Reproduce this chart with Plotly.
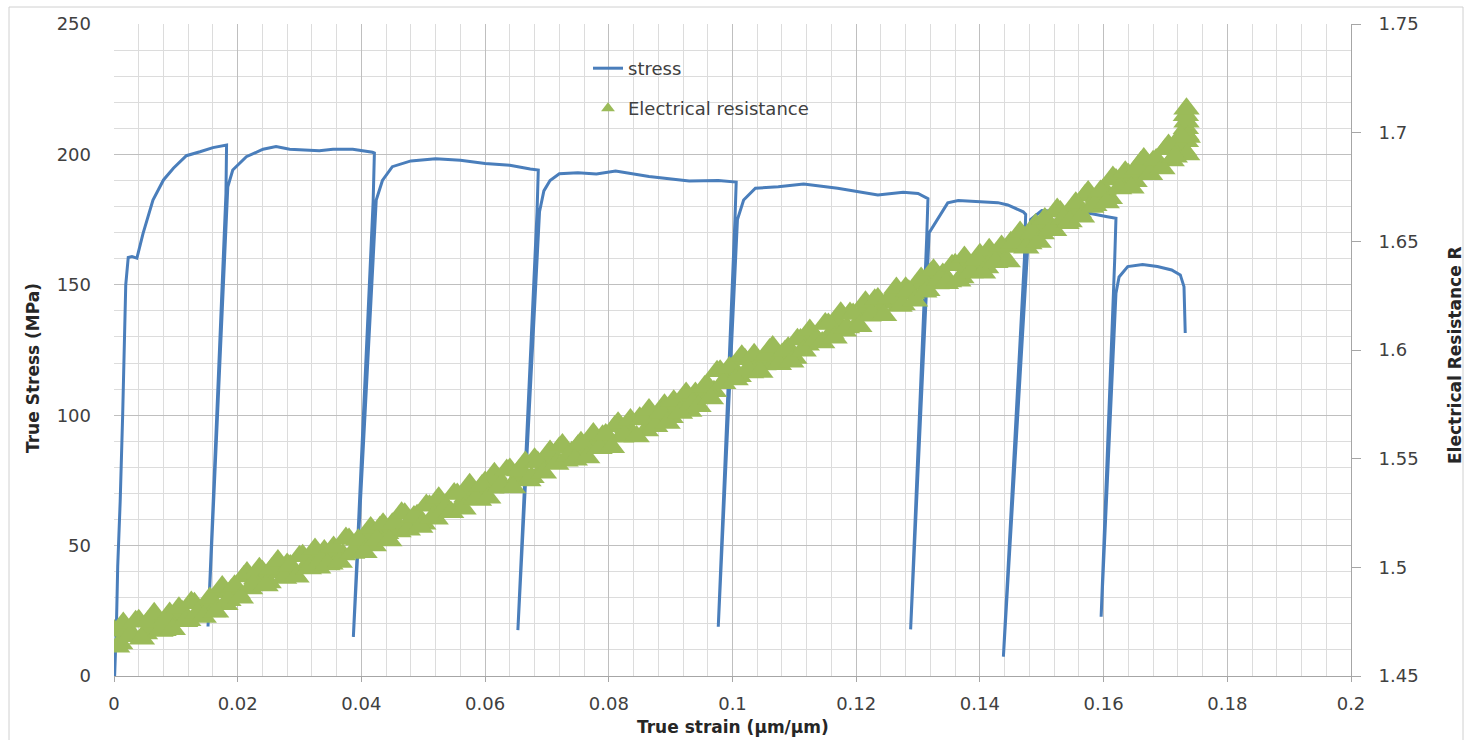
import plotly.graph_objects as go

# ---------------- data ----------------
stress_strain = [
    0.0001, 0.0004, 0.0006, 0.0010, 0.0014, 0.0017, 0.0019, 0.0023, 0.0029, 0.0037,
    0.0047, 0.0063, 0.0080, 0.0096, 0.0117, 0.0139, 0.0160, 0.0182,
    0.0181, 0.0152,
    0.0184, 0.0192, 0.0214, 0.0241, 0.0262, 0.0284, 0.0310, 0.0332, 0.0354, 0.0386, 0.0418, 0.0421,
    0.0419, 0.0387,
    0.0424, 0.0434, 0.0450, 0.0480, 0.0520, 0.0560, 0.0600, 0.0640, 0.0673, 0.0686,
    0.0684, 0.0653,
    0.0688, 0.0695, 0.0705, 0.0720, 0.0750, 0.0780, 0.0811, 0.0865, 0.0930, 0.0977, 0.1006,
    0.1004, 0.0977,
    0.1008, 0.1018, 0.1037, 0.1074, 0.1115, 0.1170, 0.1235, 0.1276, 0.1300, 0.1316,
    0.1314, 0.1288,
    0.1318, 0.1348, 0.1365, 0.1429, 0.1445, 0.1470, 0.1474,
    0.1472, 0.1438,
    0.1477, 0.1482, 0.1500, 0.1530, 0.1577, 0.1606, 0.1620,
    0.1618, 0.1596,
    0.1620, 0.1625, 0.1639, 0.1663, 0.1687, 0.1710, 0.1724, 0.1730, 0.1732,
]
stress_mpa = [
    0.0, 20.0, 42.0, 67.0, 100.0, 130.0, 150.0, 160.5, 160.8, 160.2,
    169.7, 182.5, 190.2, 194.7, 199.5, 201.0, 202.6, 203.6,
    185.0, 19.0,
    187.6, 194.0, 199.1, 202.0, 203.0, 202.0, 201.6, 201.4, 202.0, 202.0, 200.8, 200.5,
    182.0, 15.0,
    182.5, 190.0, 195.3, 197.5, 198.3, 197.8, 196.5, 195.8, 194.4, 194.0,
    178.0, 17.6,
    178.0, 186.0, 190.0, 192.6, 193.0, 192.5, 193.6, 191.5, 189.8, 190.0, 189.4,
    175.0, 18.9,
    175.0, 182.5, 187.0, 187.6, 188.6, 187.0, 184.4, 185.5, 185.0, 183.0,
    168.0, 17.9,
    170.0, 181.4, 182.3, 181.5, 180.6, 178.0, 177.0,
    160.0, 7.4,
    163.0, 175.0, 178.5, 178.0, 177.4, 176.1, 175.5,
    160.0, 22.7,
    146.8, 153.0, 157.0, 157.8, 157.0, 155.7, 153.8, 149.3, 131.5,
]

# electrical resistance readings, whole-step strains
res_strain = [
    0.000, 0.001, 0.002, 0.003, 0.004, 0.005, 0.006, 0.007, 0.008, 0.009,
    0.010, 0.011, 0.012, 0.013, 0.014, 0.015, 0.016, 0.017, 0.018, 0.019,
    0.020, 0.021, 0.022, 0.023, 0.024, 0.025, 0.026, 0.027, 0.028, 0.029,
    0.030, 0.031, 0.032, 0.033, 0.034, 0.035, 0.036, 0.037, 0.038, 0.039,
    0.040, 0.041, 0.042, 0.043, 0.044, 0.045, 0.046, 0.047, 0.048, 0.049,
    0.050, 0.051, 0.052, 0.053, 0.054, 0.055, 0.056, 0.057, 0.058, 0.059,
    0.060, 0.061, 0.062, 0.063, 0.064, 0.065, 0.066, 0.067, 0.068, 0.069,
    0.070, 0.071, 0.072, 0.073, 0.074, 0.075, 0.076, 0.077, 0.078, 0.079,
    0.080, 0.081, 0.082, 0.083, 0.084, 0.085, 0.086, 0.087, 0.088, 0.089,
    0.090, 0.091, 0.092, 0.093, 0.094, 0.095, 0.096, 0.097, 0.098, 0.099,
    0.100, 0.101, 0.102, 0.103, 0.104, 0.105, 0.106, 0.107, 0.108, 0.109,
    0.110, 0.111, 0.112, 0.113, 0.114, 0.115, 0.116, 0.117, 0.118, 0.119,
    0.120, 0.121, 0.122, 0.123, 0.124, 0.125, 0.126, 0.127, 0.128, 0.129,
    0.130, 0.131, 0.132, 0.133, 0.134, 0.135, 0.136, 0.137, 0.138, 0.139,
    0.140, 0.141, 0.142, 0.143, 0.144, 0.145, 0.146, 0.147, 0.148, 0.149,
    0.150, 0.151, 0.152, 0.153, 0.154, 0.155, 0.156, 0.157, 0.158, 0.159,
    0.160, 0.161, 0.162, 0.163, 0.164, 0.165, 0.166, 0.167, 0.168, 0.169,
    0.170, 0.171, 0.172, 0.173,
    0.1733, 0.1734, 0.1733, 0.1734, 0.1733, 0.1734, 0.1735, 0.1736,
]
res_ohm = [
    1.4710, 1.4649, 1.4708, 1.4687, 1.4756, 1.4695, 1.4734, 1.4763, 1.4711, 1.4790,
    1.4759, 1.4798, 1.4756, 1.4835, 1.4784, 1.4830, 1.4797, 1.4884, 1.4830, 1.4897,
    1.4882, 1.4958, 1.4903, 1.4949, 1.4982, 1.4930, 1.5008, 1.4976, 1.5015, 1.4973,
    1.5051, 1.5000, 1.5039, 1.4998, 1.5078, 1.5017, 1.5078, 1.5059, 1.5130, 1.5071,
    1.5112, 1.5146, 1.5100, 1.5184, 1.5157, 1.5201, 1.5165, 1.5247, 1.5198, 1.5240,
    1.5201, 1.5283, 1.5224, 1.5286, 1.5267, 1.5340, 1.5283, 1.5326, 1.5358, 1.5310,
    1.5393, 1.5366, 1.5410, 1.5373, 1.5452, 1.5401, 1.5441, 1.5400, 1.5500, 1.5440,
    1.5500, 1.5480, 1.5550, 1.5490, 1.5530, 1.5560, 1.5510, 1.5590, 1.5562, 1.5605,
    1.5567, 1.5649, 1.5601, 1.5644, 1.5606, 1.5688, 1.5630, 1.5693, 1.5675, 1.5748,
    1.5691, 1.5733, 1.5766, 1.5719, 1.5802, 1.5780, 1.5835, 1.5810, 1.5905, 1.5870,
    1.5920, 1.5879, 1.5958, 1.5896, 1.5955, 1.5933, 1.6002, 1.5941, 1.5980, 1.6010,
    1.5963, 1.6048, 1.6024, 1.6070, 1.6036, 1.6122, 1.6078, 1.6124, 1.6088, 1.6170,
    1.6113, 1.6176, 1.6158, 1.6231, 1.6174, 1.6216, 1.6249, 1.6202, 1.6286, 1.6260,
    1.6304, 1.6268, 1.6352, 1.6306, 1.6350, 1.6315, 1.6394, 1.6334, 1.6393, 1.6372,
    1.6441, 1.6380, 1.6419, 1.6450, 1.6408, 1.6496, 1.6474, 1.6522, 1.6490, 1.6578,
    1.6536, 1.6585, 1.6551, 1.6637, 1.6583, 1.6649, 1.6635, 1.6711, 1.6658, 1.6704,
    1.6741, 1.6698, 1.6785, 1.6762, 1.6809, 1.6776, 1.6863, 1.6820, 1.6868, 1.6836,
    1.6924, 1.6872, 1.6936, 1.6920,
    1.6960, 1.6990, 1.7020, 1.7050, 1.7080, 1.7110, 1.6900, 1.6980,
]

# electrical resistance readings, half-step strains
res_strain_half = [
    0.0005, 0.0015, 0.0025, 0.0035, 0.0045, 0.0055, 0.0065, 0.0075, 0.0085, 0.0095,
    0.0105, 0.0115, 0.0125, 0.0135, 0.0145, 0.0155, 0.0165, 0.0175, 0.0185, 0.0195,
    0.0205, 0.0215, 0.0225, 0.0235, 0.0245, 0.0255, 0.0265, 0.0275, 0.0285, 0.0295,
    0.0305, 0.0315, 0.0325, 0.0335, 0.0345, 0.0355, 0.0365, 0.0375, 0.0385, 0.0395,
    0.0405, 0.0415, 0.0425, 0.0435, 0.0445, 0.0455, 0.0465, 0.0475, 0.0485, 0.0495,
    0.0505, 0.0515, 0.0525, 0.0535, 0.0545, 0.0555, 0.0565, 0.0575, 0.0585, 0.0595,
    0.0605, 0.0615, 0.0625, 0.0635, 0.0645, 0.0655, 0.0665, 0.0675, 0.0685, 0.0695,
    0.0705, 0.0715, 0.0725, 0.0735, 0.0745, 0.0755, 0.0765, 0.0775, 0.0785, 0.0795,
    0.0805, 0.0815, 0.0825, 0.0835, 0.0845, 0.0855, 0.0865, 0.0875, 0.0885, 0.0895,
    0.0905, 0.0915, 0.0925, 0.0935, 0.0945, 0.0955, 0.0965, 0.0975, 0.0985, 0.0995,
    0.1005, 0.1015, 0.1025, 0.1035, 0.1045, 0.1055, 0.1065, 0.1075, 0.1085, 0.1095,
    0.1105, 0.1115, 0.1125, 0.1135, 0.1145, 0.1155, 0.1165, 0.1175, 0.1185, 0.1195,
    0.1205, 0.1215, 0.1225, 0.1235, 0.1245, 0.1255, 0.1265, 0.1275, 0.1285, 0.1295,
    0.1305, 0.1315, 0.1325, 0.1335, 0.1345, 0.1355, 0.1365, 0.1375, 0.1385, 0.1395,
    0.1405, 0.1415, 0.1425, 0.1435, 0.1445, 0.1455, 0.1465, 0.1475, 0.1485, 0.1495,
    0.1505, 0.1515, 0.1525, 0.1535, 0.1545, 0.1555, 0.1565, 0.1575, 0.1585, 0.1595,
    0.1605, 0.1615, 0.1625, 0.1635, 0.1645, 0.1655, 0.1665, 0.1675, 0.1685, 0.1695,
    0.1705, 0.1715, 0.1725,
]
res_ohm_half = [
    1.4635, 1.4744, 1.4683, 1.4752, 1.4671, 1.4750, 1.4789, 1.4707, 1.4766, 1.4715,
    1.4814, 1.4752, 1.4841, 1.4790, 1.4772, 1.4859, 1.4796, 1.4912, 1.4849, 1.4915,
    1.4860, 1.4976, 1.4921, 1.4996, 1.4916, 1.4994, 1.5032, 1.4951, 1.5009, 1.4957,
    1.5056, 1.4995, 1.5084, 1.5033, 1.5013, 1.5093, 1.5024, 1.5135, 1.5066, 1.5127,
    1.5069, 1.5183, 1.5127, 1.5201, 1.5124, 1.5208, 1.5251, 1.5173, 1.5234, 1.5186,
    1.5287, 1.5229, 1.5320, 1.5272, 1.5254, 1.5337, 1.5270, 1.5382, 1.5314, 1.5377,
    1.5320, 1.5433, 1.5377, 1.5448, 1.5367, 1.5446, 1.5485, 1.5415, 1.5485, 1.5435,
    1.5535, 1.5475, 1.5565, 1.5515, 1.5495, 1.5575, 1.5505, 1.5616, 1.5548, 1.5611,
    1.5553, 1.5665, 1.5607, 1.5680, 1.5602, 1.5684, 1.5726, 1.5649, 1.5711, 1.5664,
    1.5767, 1.5710, 1.5802, 1.5755, 1.5741, 1.5832, 1.5777, 1.5902, 1.5847, 1.5920,
    1.5864, 1.5973, 1.5912, 1.5980, 1.5899, 1.5977, 1.6016, 1.5935, 1.5995, 1.5946,
    1.6050, 1.5996, 1.6092, 1.6048, 1.6034, 1.6120, 1.6056, 1.6171, 1.6104, 1.6166,
    1.6109, 1.6222, 1.6164, 1.6237, 1.6160, 1.6242, 1.6285, 1.6209, 1.6273, 1.6227,
    1.6331, 1.6275, 1.6369, 1.6323, 1.6307, 1.6390, 1.6319, 1.6428, 1.6357, 1.6416,
    1.6355, 1.6464, 1.6404, 1.6479, 1.6407, 1.6495, 1.6543, 1.6471, 1.6539, 1.6497,
    1.6605, 1.6553, 1.6649, 1.6605, 1.6591, 1.6677, 1.6613, 1.6729, 1.6666, 1.6732,
    1.6679, 1.6796, 1.6743, 1.6820, 1.6747, 1.6834, 1.6881, 1.6809, 1.6877, 1.6835,
    1.6943, 1.6889, 1.6983,
]

x_tick_vals = [0, 0.02, 0.04, 0.06, 0.08, 0.1, 0.12, 0.14, 0.16, 0.18, 0.2]
x_tick_text = ["0", "0.02", "0.04", "0.06", "0.08", "0.1", "0.12", "0.14", "0.16", "0.18", "0.2"]
y_tick_vals = [0, 50, 100, 150, 200, 250]
y2_tick_vals = [1.45, 1.5, 1.55, 1.6, 1.65, 1.7, 1.75]
y2_tick_text = ["1.45", "1.5", "1.55", "1.6", "1.65", "1.7", "1.75"]

# ---------------- figure ----------------
BLUE = "#4A7EBB"
GREEN = "#9BBB59"
FONT = "DejaVu Sans"
TXT = "#404040"
TITLE = "#262626"

fig = go.Figure()
fig.add_trace(go.Scatter(
    x=stress_strain, y=stress_mpa, mode="lines", name="stress",
    line=dict(color=BLUE, width=3), legend="legend",
))
fig.add_trace(go.Scatter(
    x=res_strain + res_strain_half, y=res_ohm + res_ohm_half,
    mode="markers", name="Electrical resistance",
    marker=dict(symbol="triangle-up", size=23, color=GREEN, line=dict(width=0)),
    yaxis="y2", legend="legend2",
))

W, H = 1471, 740
L, R, T, B = 114, 120, 24, 64
pw = W - L - R
ph = H - T - B

fig.update_layout(
    width=W, height=H,
    margin=dict(l=L, r=R, t=T, b=B),
    paper_bgcolor="white", plot_bgcolor="white",
    font=dict(family=FONT, size=18, color=TXT),
    xaxis=dict(
        range=[0, 0.2], tickvals=x_tick_vals, ticktext=x_tick_text,
        showgrid=True, gridcolor="#BFBFBF", gridwidth=1,
        minor=dict(dtick=0.004, showgrid=True, gridcolor="#DCDCDC", gridwidth=1),
        showline=True, linecolor="#A6A6A6", linewidth=1,
        ticks="outside", ticklen=5, tickcolor="#A6A6A6",
        ticklabelstandoff=6, zeroline=False,
        tickfont=dict(size=18, color=TXT),
    ),
    yaxis=dict(
        range=[0, 250], tickvals=y_tick_vals,
        showgrid=True, gridcolor="#BFBFBF", gridwidth=1,
        minor=dict(dtick=10, showgrid=True, gridcolor="#DCDCDC", gridwidth=1),
        showline=False, zeroline=False,
        ticks="", ticklabelstandoff=22,
        tickfont=dict(size=18, color=TXT),
    ),
    yaxis2=dict(
        range=[1.45, 1.75], tickvals=y2_tick_vals, ticktext=y2_tick_text,
        overlaying="y", side="right", showgrid=False, zeroline=False,
        showline=True, linecolor="#A6A6A6", linewidth=1,
        ticks="outside", ticklen=9, tickcolor="#A6A6A6",
        ticklabelstandoff=14,
        tickfont=dict(size=18, color=TXT),
    ),
    legend=dict(
        x=(588 - L) / pw, y=1 - (50 - T) / ph, xanchor="left", yanchor="top",
        bgcolor="rgba(0,0,0,0)", font=dict(size=18, color=TXT),
    ),
    legend2=dict(
        x=(588 - L) / pw, y=1 - (90 - T) / ph, xanchor="left", yanchor="top",
        bgcolor="rgba(0,0,0,0)", font=dict(size=18, color=TXT),
        itemsizing="constant",
    ),
    showlegend=True,
    annotations=[
        dict(text="<b>True strain (µm/µm)</b>", xref="paper", yref="paper",
             x=0.5, y=-(727 - (H - B)) / ph, xanchor="center", yanchor="middle",
             showarrow=False, font=dict(size=17, color=TITLE)),
        dict(text="<b>True Stress (MPa)</b>", xref="paper", yref="paper",
             x=(33 - L) / pw, y=(H - B - 368) / ph, xanchor="center", yanchor="middle",
             textangle=-90, showarrow=False, font=dict(size=17, color=TITLE)),
        dict(text="<b>Electrical Resistance R</b>", xref="paper", yref="paper",
             x=(1455 - L) / pw, y=(H - B - 355) / ph, xanchor="center", yanchor="middle",
             textangle=-90, showarrow=False, font=dict(size=17, color=TITLE)),
    ],
    shapes=[
        dict(type="rect", xref="paper", yref="paper",
             x0=(9 - L) / pw, x1=(1463 - L) / pw,
             y0=-(760 - (H - B)) / ph, y1=1 + (T - 7) / ph,
             line=dict(color="#D0D0D0", width=1), fillcolor="rgba(0,0,0,0)", layer="below"),
    ],
)

fig.write_html(
    "out.html",
    config={"displayModeBar": False},
    post_script="document.body.style.margin='0px';document.body.style.overflow='hidden';",
)
